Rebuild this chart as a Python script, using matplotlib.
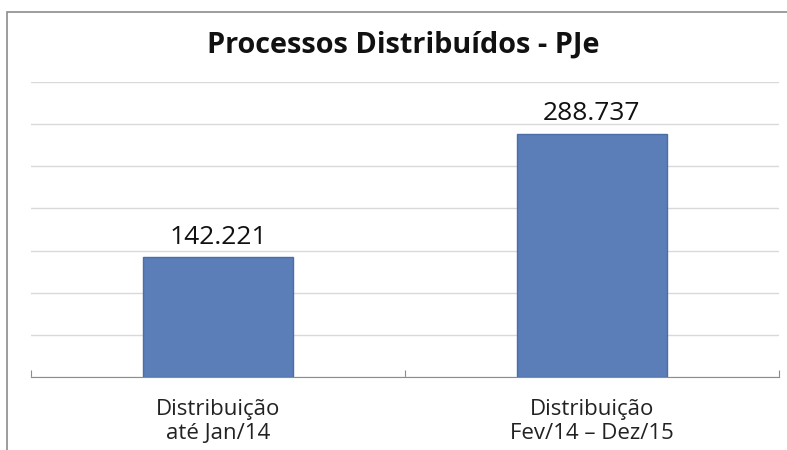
import matplotlib.pyplot as plt
from matplotlib.patches import Rectangle

# data
categories = ['Distribuição\naté Jan/14', 'Distribuição\nFev/14 – Dez/15']
values = [142221, 288737]
value_labels = ['142.221', '288.737']

plt.rcParams['font.family'] = ['Open Sans', 'DejaVu Sans']

fig = plt.figure(figsize=(7.87, 4.5), dpi=100)
fig.patch.set_facecolor('white')

# outer chart frame (clipped on right and bottom)
fig.patches.append(Rectangle((7 / 787, -0.1), 1.2, 1 - 12 / 450 + 0.1,
                             transform=fig.transFigure, fill=False,
                             edgecolor='#8c8c8c', linewidth=1.2))

ax = fig.add_axes([31 / 787, 1 - 377 / 450, 748 / 787, (377 - 82) / 450])
x = range(len(categories))
bars = ax.bar(x, values, width=0.4, color='#5b7db8', edgecolor='#4a6ea6', linewidth=1, zorder=3)

ax.set_xlim(-0.5, 1.5)
ax.set_ylim(0, 350000)
ax.set_yticks(range(0, 350001, 50000))
ax.yaxis.grid(True, color='#d9d9d9', linewidth=1, zorder=0)
ax.tick_params(axis='y', left=False, labelleft=False)
for s in ['left', 'right', 'top']:
    ax.spines[s].set_visible(False)
ax.spines['bottom'].set_color('#8c8c8c')

ax.set_xticks([-0.5, 0.5, 1.5], minor=False)
ax.set_xticklabels([])
ax.tick_params(axis='x', length=5, color='#8c8c8c', direction='in')
ax.set_xticks(list(x), minor=True)
ax.set_xticklabels(categories, minor=True, fontsize=16, color='#222222', linespacing=1.2)
ax.tick_params(axis='x', which='minor', length=0, pad=16)

for b, lab in zip(bars, value_labels):
    ax.text(b.get_x() + b.get_width() / 2, b.get_height() + 9000, lab,
            ha='center', va='bottom', fontsize=19, color='#111111')

fig.text(0.513, 1 - 45 / 450, 'Processos Distribuídos - PJe', ha='center', va='center',
         fontsize=20.8, fontweight='bold', color='#111111')

plt.savefig('out.png', dpi=100)
